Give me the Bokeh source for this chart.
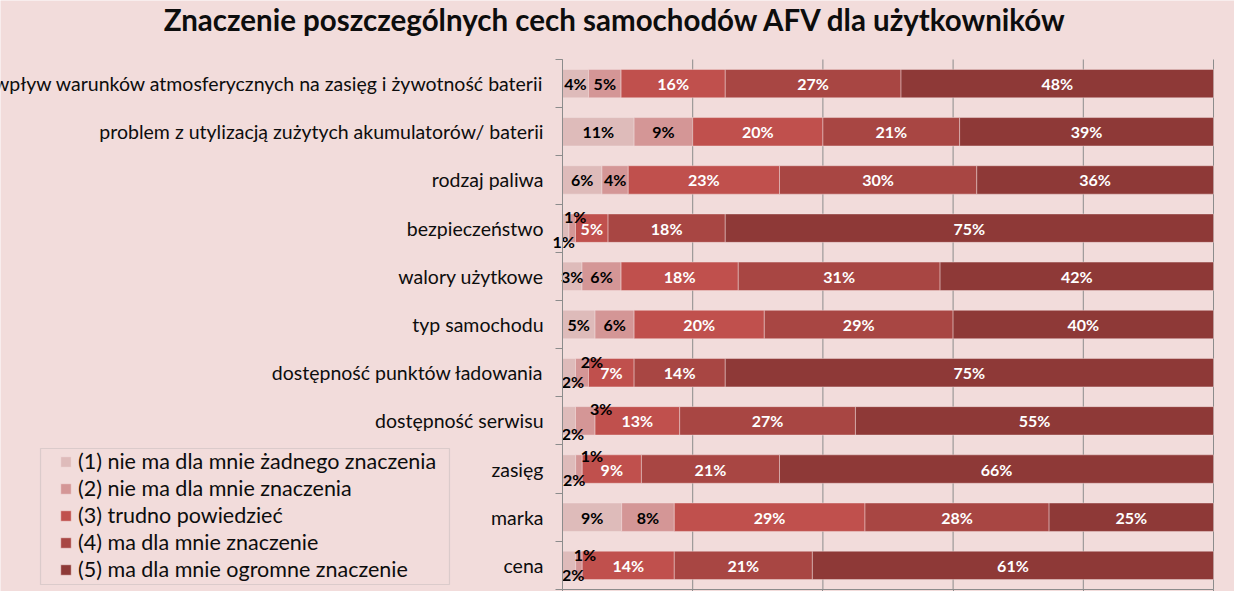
from bokeh.plotting import figure
from bokeh.models import (FixedTicker, ColumnDataSource, Legend, LegendItem, Label,
                          LinearAxis, Range1d, BoxAnnotation)
from bokeh.core.properties import value
from bokeh.embed import file_html
from bokeh.resources import INLINE

categories = [
    "wpływ warunków atmosferycznych na zasięg i żywotność baterii",
    "problem z utylizacją zużytych akumulatorów/ baterii",
    "rodzaj paliwa",
    "bezpieczeństwo",
    "walory użytkowe",
    "typ samochodu",
    "dostępność punktów ładowania",
    "dostępność serwisu",
    "zasięg",
    "marka",
    "cena",
]
series_names = [
    "(1) nie ma dla mnie żadnego znaczenia",
    "(2) nie ma dla mnie znaczenia",
    "(3) trudno powiedzieć",
    "(4) ma dla mnie znaczenie",
    "(5) ma dla mnie ogromne znaczenie",
]
s1 = [4, 11, 6, 1, 3, 5, 2, 2, 2, 9, 2]
s2 = [5, 9, 4, 1, 6, 6, 2, 3, 1, 8, 1]
s3 = [16, 20, 23, 5, 18, 20, 7, 13, 9, 29, 14]
s4 = [27, 21, 30, 18, 31, 29, 14, 27, 21, 28, 21]
s5 = [48, 39, 36, 75, 42, 40, 75, 55, 66, 25, 61]
x_ticks = [0, 20, 40, 60, 80, 100]
title_text = "Znaczenie poszczególnych cech samochodów AFV dla użytkowników"

series = [s1, s2, s3, s4, s5]
colors = ["#DEBBBA", "#D49696", "#C0504D", "#A84643", "#8E3937"]
label_colors = ["#000000", "#000000", "#FFFFFF", "#FFFFFF", "#FFFFFF"]
bg = "#F2DCDB"
grid_col = "#8C8C8C"
text_col = "#0D0D0D"

# manual label displacement (screen px) for tiny overlapping segments
label_shift = {
    (3, 0): (-2, 13), (3, 1): (3, -12),
    (6, 0): (4, 9), (6, 1): (10, -11),
    (7, 0): (4, 13), (7, 1): (16, -12),
    (8, 0): (5, 10), (8, 1): (13, -14),
    (10, 0): (4, 9), (10, 1): (6, -11),
}

# page layout (pixels)
W, H = 1234, 591
FRAME_L, FRAME_R = 562, 1213
PLOT_TOP, PLOT_BOTTOM = 59, 589

n = len(categories)
ppu = (FRAME_R - FRAME_L) / 100.0
ppr = (PLOT_BOTTOM - PLOT_TOP) / n
x_range = Range1d(-FRAME_L / ppu, (W - FRAME_L) / ppu)
y_range = Range1d(-0.5 - (H - PLOT_BOTTOM) / ppr, n - 0.5 + PLOT_TOP / ppr)

ys = [n - 1 - i for i in range(n)]
totals = [sum(s[i] for s in series) for i in range(n)]
keys = ["k1", "k2", "k3", "k4", "k5"]
data = {"y": ys}
for k, s in zip(keys, series):
    data[k] = [100.0 * s[i] / totals[i] for i in range(n)]
src = ColumnDataSource(data)

p = figure(
    width=W, height=H, x_range=x_range, y_range=y_range,
    x_axis_location=None, y_axis_location=None,
    output_backend="svg", toolbar_location=None,
    min_border=0, min_border_left=0, min_border_right=0,
    min_border_top=0, min_border_bottom=0,
    background_fill_color=bg, border_fill_color=bg, outline_line_color=None,
)
p.xgrid.visible = False
p.ygrid.visible = False

# vertical grid lines over the plot area only
p.segment(x0=x_ticks, x1=x_ticks, y0=[-0.5] * len(x_ticks), y1=[n - 0.5] * len(x_ticks),
          line_color=grid_col, line_width=1, level="underlay")

rends = p.hbar_stack(keys, y="y", height=0.59, color=colors, source=src,
                     line_color="#F5E4E3", line_width=0.8, line_alpha=0.55)

# data labels
lx, ly, lt, lc, ox, oy = [], [], [], [], [], []
for i in range(n):
    cum = 0.0
    for j, s in enumerate(series):
        w = 100.0 * s[i] / totals[i]
        lx.append(cum + w / 2)
        ly.append(ys[i])
        lt.append(f"{s[i]}%")
        lc.append(label_colors[j])
        dx, dy = label_shift.get((i, j), (0, 0))
        ox.append(dx)
        oy.append(dy)
        cum += w
lsrc = ColumnDataSource(dict(x=lx, y=ly, text=lt, color=lc, ox=ox, oy=oy))
p.text(x="x", y="y", text="text", source=lsrc, text_color="color",
       x_offset="ox", y_offset="oy",
       text_align="center", text_baseline="middle",
       text_font=value("Lato"), text_font_style="bold", text_font_size="16px")

# x axis (labels fall below the visible page)
xaxis = LinearAxis(fixed_location=-0.5, bounds=(0, 100))
xaxis.ticker = FixedTicker(ticks=x_ticks)
xaxis.major_label_overrides = {t: "" for t in x_ticks}
xaxis.axis_line_color = grid_col
xaxis.major_tick_line_color = grid_col
xaxis.major_tick_out = 7
xaxis.major_tick_in = 0
xaxis.minor_tick_line_color = None
p.add_layout(xaxis, "below")

# y axis
bounds = [k + 0.5 for k in range(-1, n)]
yaxis = LinearAxis(fixed_location=0, bounds=(-0.5, n - 0.5))
yaxis.ticker = FixedTicker(ticks=ys, minor_ticks=bounds)
yaxis.major_label_overrides = {ys[i]: categories[i] for i in range(n)}
yaxis.major_tick_line_color = None
yaxis.major_tick_out = 0
yaxis.major_tick_in = 0
yaxis.minor_tick_line_color = grid_col
yaxis.minor_tick_out = 7
yaxis.minor_tick_in = 0
yaxis.axis_line_color = grid_col
yaxis.major_label_standoff = 12
yaxis.major_label_text_font = "Lato"
yaxis.major_label_text_font_size = "19.5px"
yaxis.major_label_text_color = text_col
p.add_layout(yaxis, "left")

# legend frame
box = BoxAnnotation(left=40, right=449, top=H - 448, bottom=H - 584,
                    left_units="screen", right_units="screen",
                    top_units="screen", bottom_units="screen",
                    fill_color=None, line_color="#A6A6A6", line_width=1.2,
                    level="overlay")
p.add_layout(box)

legend = Legend(
    items=[LegendItem(label=series_names[j], renderers=[rends[j]]) for j in range(5)],
    location=(59, 9),
    label_text_font="Lato", label_text_font_size="21.5px", label_text_color=text_col,
    glyph_width=13, glyph_height=13, label_height=26, spacing=1,
    padding=2, margin=0, label_standoff=6,
    border_line_color=None, background_fill_alpha=0.0,
)
p.add_layout(legend, "center")

# title
title = Label(
    x=615, y=H - 19, x_units="screen", y_units="screen",
    text=title_text,
    text_align="center", text_baseline="middle",
    text_font="Lato", text_font_style="bold", text_font_size="29.5px",
    text_color=text_col,
)
p.add_layout(title)

open("out.html", "w").write(file_html(p, INLINE))
